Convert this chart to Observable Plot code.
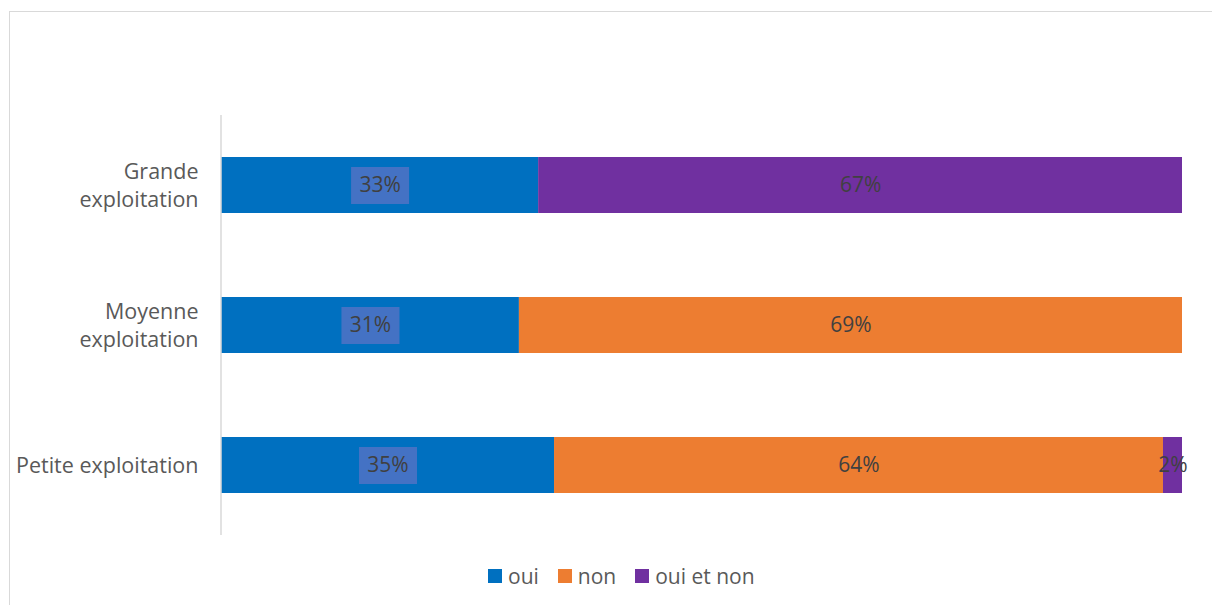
<!DOCTYPE html>
<html>
<head>
<meta charset="utf-8">
<script src="https://cdn.jsdelivr.net/npm/d3@7"></script>
<script src="https://cdn.jsdelivr.net/npm/@observablehq/plot@0.6"></script>
<style>
  html, body { margin: 0; padding: 0; background: #fff; }
  body { width: 1212px; height: 605px; position: relative; overflow: hidden; font-family: "Open Sans", sans-serif; }
  #frame { position: absolute; left: 9px; top: 11px; width: 1240px; height: 640px; border: 1.5px solid #d9d9d9; box-sizing: border-box; }
  #chart { position: absolute; left: 0; top: 0; }
  #legend { position: absolute; left: 488px; top: 562px; display: flex; align-items: center; font-size: 21px; color: #595959; }
  #legend .item { display: flex; align-items: center; margin-right: 19px; }
  #legend .sw { width: 14px; height: 14px; margin-right: 6px; }
</style>
</head>
<body>
<div id="frame"></div>
<div id="chart"></div>
<div id="legend"></div>
<script>
const categories = ["Grande exploitation", "Moyenne exploitation", "Petite exploitation"];
const categoryLabels = ["Grande\nexploitation", "Moyenne\nexploitation", "Petite exploitation"];
const series = ["oui", "non", "oui et non"];
const oui = [33, 31, 35];
const non = [0, 69, 64];
const ouiEtNon = [67, 0, 2];
const colors = ["#0070C0", "#ED7D31", "#7030A0"];

const seriesValues = [oui, non, ouiEtNon];
const rows = [];
categories.forEach((c, i) => {
  series.forEach((s, j) => {
    const v = seriesValues[j][i];
    if (v > 0) rows.push({cat: c, series: s, value: v});
  });
});

const rectSymbol = { draw(ctx) { ctx.rect(-29, -18.5, 58, 37); } };
const stackOpts = {x: "value", y: "cat", z: "series", offset: "normalize"};

const chart = Plot.plot({
  width: 1212,
  height: 545,
  marginLeft: 221,
  marginRight: 30,
  marginTop: 115,
  marginBottom: 10,
  style: {fontFamily: "Open Sans", fontSize: "21px", background: "transparent"},
  x: {axis: null, domain: [0, 1]},
  y: {domain: categories, paddingInner: 0.6, paddingOuter: 0.3, label: null},
  color: {domain: series, range: colors},
  marks: [
    Plot.barX(rows, Plot.stackX({...stackOpts, fill: "series"})),
    Plot.ruleX([0], {stroke: "#d9d9d9", strokeWidth: 1.5, dx: -0.5}),
    Plot.dot(rows, Plot.stackX({...stackOpts, r: d => d.series === "oui" ? 1 : 0, symbol: rectSymbol, fill: "#4472C4", stroke: null})),
    Plot.text(rows, Plot.stackX({...stackOpts, text: d => d.value + "%", fill: "#404040", fontSize: 21})),
    Plot.axisY({tickSize: 0, tickPadding: 23, fontSize: 21.5, lineHeight: 1.32, dy: -1.5, color: "#595959",
      tickFormat: d => categoryLabels[categories.indexOf(d)], label: null})
  ]
});
document.getElementById("chart").appendChild(chart);

const legend = document.getElementById("legend");
series.forEach((s, i) => {
  const item = document.createElement("div");
  item.className = "item";
  const sw = document.createElement("div");
  sw.className = "sw";
  sw.style.background = colors[i];
  const t = document.createElement("span");
  t.textContent = s;
  item.appendChild(sw);
  item.appendChild(t);
  legend.appendChild(item);
});
</script>
</body>
</html>
